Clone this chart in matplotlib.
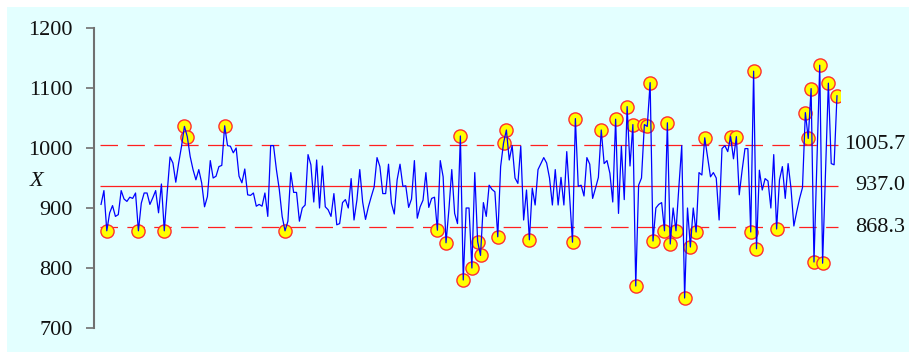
import matplotlib.pyplot as plt
from matplotlib.patches import Rectangle
from matplotlib.transforms import blended_transform_factory

# individual measurements, in run order
x_values = [
    906, 929, 862, 892, 904, 886, 889, 929, 915, 911,
    918, 916, 925, 862, 908, 925, 925, 906, 917, 929,
    892, 940, 862, 925, 985, 975, 943, 975, 1003, 1036,
    1019, 986, 964, 947, 964, 942, 902, 919, 979, 950,
    953, 969, 971, 1037, 1004, 1003, 992, 1000, 953, 942,
    965, 922, 921, 925, 903, 906, 903, 925, 886, 1004,
    1004, 964, 931, 886, 862, 878, 959, 926, 926, 878,
    900, 905, 989, 972, 910, 980, 900, 970, 902, 897,
    886, 924, 872, 874, 909, 914, 900, 949, 880, 913,
    964, 910, 881, 902, 919, 935, 984, 969, 924, 924,
    973, 908, 890, 947, 973, 936, 937, 901, 915, 979,
    883, 902, 913, 959, 901, 916, 918, 863, 979, 952,
    842, 897, 964, 891, 874, 1020, 780, 900, 900, 800,
    959, 844, 821, 909, 886, 938, 931, 927, 852, 969,
    1008, 1030, 980, 1004, 950, 941, 1003, 880, 930, 847,
    933, 905, 964, 974, 984, 975, 950, 905, 964, 905,
    951, 905, 994, 919, 843, 1049, 936, 938, 920, 984,
    973, 916, 933, 951, 1030, 974, 979, 958, 910, 1048,
    891, 1003, 914, 1069, 970, 1039, 770, 938, 950, 1039,
    1036, 1109, 845, 900, 906, 909, 862, 1042, 840, 900,
    862, 935, 1004, 750, 900, 835, 900, 860, 959, 955,
    1017, 985, 952, 959, 950, 880, 999, 1004, 994, 1019,
    982, 1019, 922, 963, 999, 999, 860, 1128, 832, 963,
    930, 949, 945, 900, 989, 865, 947, 969, 916, 974,
    933, 870, 894, 916, 934, 1059, 1016, 1099, 810, 974,
    1138, 808, 958, 1108, 974, 972, 1087,
]

ucl = 1005.7
center = 937.0
lcl = 868.3
limit_labels = ["1005.7", "937.0", "868.3"]
y_ticks = [700, 800, 900, 1000, 1100, 1200]

plt.rcParams["font.family"] = ["Liberation Serif", "DejaVu Serif"]

W, H = 909, 352
fig = plt.figure(figsize=(W / 100, H / 100), dpi=100)
# light cyan panel, white strip only along the top and left edges
fig.patches.append(Rectangle((7 / W, 0), 1 - 7 / W, 1 - 7 / H,
                             transform=fig.transFigure, facecolor="#E3FFFF",
                             edgecolor="none", zorder=-10))

ax = fig.add_axes([94 / W, 24 / H, (840 - 94) / W, 300 / H])
ax.set_facecolor("none")

n = len(x_values)
idx = list(range(n))

# control limits
ax.hlines([ucl, lcl], -0.35, n - 0.65, colors="#FF2020", linewidth=0.9,
          linestyles=[(0, (14, 7.5))], zorder=1)
ax.hlines(center, -0.35, n - 0.65, colors="#FF2020", linewidth=0.9, zorder=1)

# out-of-control points
out_i = [i for i, v in enumerate(x_values) if v > ucl or v < lcl]
out_v = [x_values[i] for i in out_i]
ax.plot(out_i, out_v, linestyle="none", marker="o", markersize=9.5,
        markerfacecolor="#FFFF00", markeredgecolor="#FF3030",
        markeredgewidth=1.0, zorder=2)

ax.plot(idx, x_values, color="#0000FF", linewidth=0.9, zorder=3)

ax.set_xlim(-2.45, n - 1 + 1.05)
ax.set_ylim(700, 1200)
ax.set_yticks(y_ticks)
ax.set_xticks([])
ax.tick_params(axis="y", direction="out", length=6, width=1.2,
               color="#707070", labelsize=16, pad=9.5, labelcolor="#111111")
for side in ["top", "right", "bottom"]:
    ax.spines[side].set_visible(False)
ax.spines["left"].set_color("#707070")
ax.spines["left"].set_linewidth(1.5)

# limit values to the right of the chart
tr = blended_transform_factory(fig.transFigure, ax.transData)
for val, lab in zip([ucl, center, lcl], limit_labels):
    ax.text(905 / W, val, lab, transform=tr, ha="right", va="center",
            fontsize=16, color="#111111", clip_on=False)

ax.text(37 / W, 944, "X", transform=tr, ha="center", va="center",
        fontsize=16, style="italic", color="#111111")

fig.savefig("out.png", dpi=100)
